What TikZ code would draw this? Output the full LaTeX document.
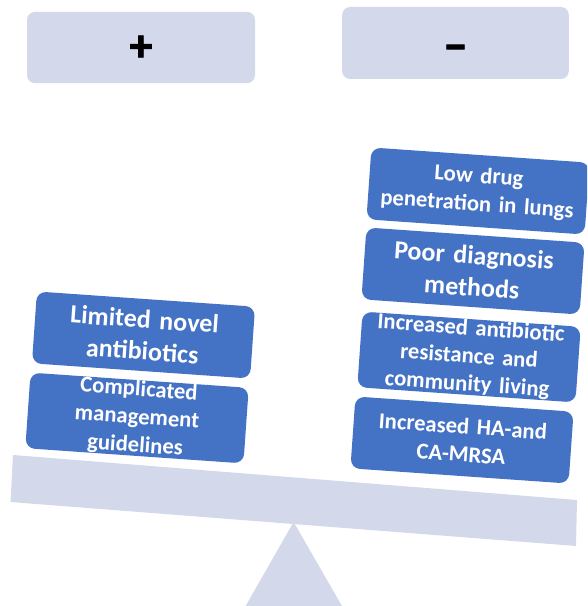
\documentclass[tikz,border=0pt]{standalone}
\usepackage{fontspec}
\setmainfont{Carlito}
\newfontfamily\signfont[BoldFeatures={FakeBold=2}]{Carlito}
\definecolor{boxblue}{HTML}{4472C4}
\definecolor{paleblue}{HTML}{D3D9EB}
\begin{document}
\begin{tikzpicture}[x=0.75pt, y=-0.75pt,
	signbox/.style={shape=rectangle, fill=paleblue, rounded corners=6pt, minimum width=171pt, minimum height=53.5pt, text height=25pt, text depth=5pt, inner sep=0pt, font=\signfont\bfseries\fontsize{34}{34}\selectfont},
	reasonbox/.style={shape=rectangle, fill=boxblue, rounded corners=7pt, rotate=-4, minimum width=164pt, minimum height=54pt, text width=160pt, align=center, inner sep=0pt, text=white, font=\bfseries\fontsize{17}{21}\selectfont},
	bigtext/.style={font=\bfseries\fontsize{19.5}{24}\selectfont}]
			\useasboundingbox (0, 0) rectangle (587, 606);
			\clip (0, 0) rectangle (587, 606);
			\node[signbox] (plus) at (141, 47.5){+};
			\node[signbox, minimum width=170pt, minimum height=54pt, text height=31.5pt, text depth=4pt] (minus) at (455.5, 43){−};
			\fill[paleblue] (245.6, 606) -- (293.6, 522) -- (342, 606) -- cycle;
			\fill[paleblue] (13, 455) -- (577, 500) -- (576, 546) -- (10.5, 502) -- cycle;
			\node[reasonbox, bigtext] (novel) at (143.5, 335){Limited novel\\antibiotics};
			\node[reasonbox] (guide) at (137, 418){Complicated\\management\\guidelines};
			\node[reasonbox] (lungs) at (478, 191){Low drug\\penetration in lungs};
			\node[reasonbox, bigtext] (diag) at (473, 271){Poor diagnosis\\methods};
			\node[reasonbox] (resist) at (469, 357){Increased antibiotic\\resistance and\\community living};
			\node[reasonbox] (mrsa) at (462, 440){Increased HA-and\\CA-MRSA};
		\end{tikzpicture}
\end{document}
